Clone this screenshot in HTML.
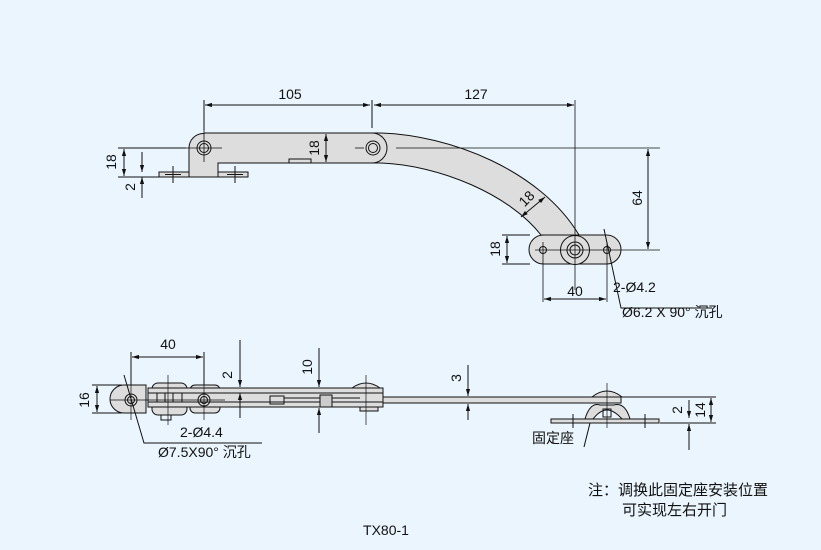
<!DOCTYPE html>
<html><head><meta charset="utf-8"><style>
html,body{margin:0;padding:0;background:#eaf5fd;}
svg{display:block}
text{font-family:"Liberation Sans","Noto Sans CJK SC",sans-serif;font-size:14px;fill:#111}
.n{font-size:15px}
</style></head><body>
<svg width="821" height="550" viewBox="0 0 821 550" xmlns="http://www.w3.org/2000/svg">
<defs>
<marker id="a" viewBox="0 0 10 10" refX="10" refY="5" markerWidth="7" markerHeight="7" orient="auto-start-reverse"><path d="M0,2 L10,5 L0,8 z" fill="#111"/></marker>
</defs>
<rect x="0" y="0" width="821" height="550" fill="#eaf5fd"/>
<g stroke="#111" stroke-width="1" fill="none">
<rect x="159" y="172" width="89" height="5" fill="#ddd"/>
<line x1="173" y1="166" x2="173" y2="183"/><line x1="165" y1="174.5" x2="181" y2="174.5"/>
<line x1="235" y1="166" x2="235" y2="183"/><line x1="227" y1="174.5" x2="243" y2="174.5"/>
<path d="M189,177 L189,148 A14.5,14.5 0 0 1 218,148 L218,177 Z" fill="#ddd"/>
<path d="M204,133 L380,133 C450,135 540,170 579,235 L541,235 C510,195 440,165 380,163 L218,163" fill="#ddd"/>
<path d="M372,133 A15,15 0 0 1 372,163" />
<circle cx="204" cy="148" r="7"/><circle cx="204" cy="148" r="4.5"/>
<circle cx="373" cy="148" r="7"/><circle cx="373" cy="148" r="4.5"/>
<rect x="289" y="159" width="22" height="4" fill="#ddd"/>
<rect x="529" y="235" width="92" height="29" rx="14.5" fill="#ddd"/>
<circle cx="575" cy="250" r="14.5" fill="#ddd"/><circle cx="575" cy="250" r="8"/><circle cx="575" cy="250" r="5"/>
<circle cx="543" cy="250" r="3.5"/><circle cx="607" cy="250" r="3.5"/>
<line x1="186" y1="148" x2="222" y2="148" stroke-width="0.8"/>
<line x1="204" y1="130" x2="204" y2="162" stroke-width="0.8"/>
<line x1="355" y1="148" x2="364" y2="148" stroke-width="0.8"/>
<line x1="396" y1="148" x2="660" y2="148" stroke-width="0.8"/>
<line x1="535" y1="250" x2="660" y2="250" stroke-width="0.8"/>
<line x1="575" y1="100" x2="575" y2="290" stroke-width="0.8"/>
<line x1="543" y1="242" x2="543" y2="302" stroke-width="0.8"/>
<line x1="607" y1="242" x2="607" y2="302" stroke-width="0.8"/>
<line x1="204" y1="100" x2="204" y2="130"/>
<line x1="372" y1="100" x2="372" y2="128"/>
<line x1="205" y1="105" x2="370" y2="105" marker-start="url(#a)" marker-end="url(#a)"/>
<line x1="374" y1="105" x2="574" y2="105" marker-start="url(#a)" marker-end="url(#a)"/>
<line x1="326" y1="134" x2="326" y2="162" marker-start="url(#a)" marker-end="url(#a)"/>
<line x1="648" y1="149" x2="648" y2="249" marker-start="url(#a)" marker-end="url(#a)"/>
<line x1="502" y1="235" x2="530" y2="235"/><line x1="502" y1="264" x2="530" y2="264"/>
<line x1="507" y1="236" x2="507" y2="263" marker-start="url(#a)" marker-end="url(#a)"/>
<line x1="544" y1="299" x2="606" y2="299" marker-start="url(#a)" marker-end="url(#a)"/>
<line x1="521" y1="217" x2="545" y2="197" marker-start="url(#a)" marker-end="url(#a)"/>
<path d="M604,229 L621,308 L712,308"/>
<line x1="118" y1="148" x2="186" y2="148"/><line x1="118" y1="177" x2="165" y2="177"/>
<line x1="124" y1="149" x2="124" y2="176" marker-start="url(#a)" marker-end="url(#a)"/>
<line x1="142" y1="152" x2="142" y2="172" marker-end="url(#a)"/>
<line x1="142" y1="198" x2="142" y2="177" marker-end="url(#a)"/>
<line x1="131" y1="352" x2="131" y2="395"/><line x1="204" y1="352" x2="204" y2="395"/>
<line x1="132" y1="357" x2="203" y2="357" marker-start="url(#a)" marker-end="url(#a)"/>
<line x1="92" y1="385" x2="122" y2="385"/><line x1="92" y1="413" x2="122" y2="413"/>
<line x1="97" y1="386" x2="97" y2="412" marker-start="url(#a)" marker-end="url(#a)"/>
<path d="M124,385 L146,385 L146,413 L124,413 A14,14 0 0 1 124,385 Z" fill="#ddd"/>
<rect x="152" y="383" width="35" height="32" rx="6" fill="#ddd"/>
<rect x="190" y="385" width="30" height="28" rx="5" fill="#ddd"/>
<rect x="148" y="388" width="235" height="19" fill="#ddd"/>
<line x1="148" y1="393" x2="383" y2="393"/><line x1="148" y1="402" x2="383" y2="402"/>
<rect x="157" y="393" width="25" height="9"/>
<line x1="165" y1="393" x2="165" y2="402"/><line x1="173" y1="393" x2="173" y2="402"/>
<rect x="161" y="415" width="10" height="5"/>
<circle cx="131" cy="400" r="6"/><circle cx="131" cy="400" r="3.5"/>
<circle cx="204" cy="400" r="6"/><circle cx="204" cy="400" r="3.5"/>
<line x1="110" y1="400" x2="225" y2="400" stroke-width="0.7"/>
<line x1="131" y1="380" x2="131" y2="420" stroke-width="0.7"/>
<line x1="204" y1="380" x2="204" y2="420" stroke-width="0.7"/>
<line x1="168" y1="375" x2="168" y2="425" stroke-width="0.7"/>
<rect x="270" y="396" width="14" height="8"/>
<line x1="284" y1="398" x2="360" y2="398"/><line x1="284" y1="402" x2="360" y2="402"/>
<rect x="320" y="395" width="12" height="12" fill="#ccc"/>
<path d="M352,388 Q366,378 380,388 Z" fill="#ddd"/>
<rect x="360" y="407" width="18" height="4" fill="#ddd"/>
<line x1="366" y1="375" x2="366" y2="425" stroke-width="0.7"/>
<rect x="383" y="397" width="238" height="6" fill="#ddd"/>
<rect x="551" y="419" width="108" height="4" fill="#ddd"/>
<path d="M585,419 Q590,402 600,405 L614,405 Q625,402 630,419 L622,419 Q614,410 607,410 Q600,410 593,419 Z" fill="#ddd"/>
<path d="M592,397 Q607,385 622,397 Z" fill="#ddd"/>
<rect x="603" y="409" width="8" height="8"/>
<line x1="607" y1="383" x2="607" y2="428" stroke-width="0.7"/>
<line x1="573" y1="414" x2="573" y2="428"/><line x1="645" y1="414" x2="645" y2="428"/>
<line x1="240" y1="340" x2="240" y2="387" marker-end="url(#a)"/>
<line x1="240" y1="418" x2="240" y2="393" marker-end="url(#a)"/>
<line x1="319" y1="348" x2="319" y2="387" marker-end="url(#a)"/>
<line x1="319" y1="433" x2="319" y2="408" marker-end="url(#a)"/>
<line x1="468" y1="365" x2="468" y2="396" marker-end="url(#a)"/>
<line x1="468" y1="420" x2="468" y2="404" marker-end="url(#a)"/>
<line x1="622" y1="397" x2="716" y2="397"/><line x1="660" y1="423" x2="716" y2="423"/>
<line x1="711" y1="398" x2="711" y2="422" marker-start="url(#a)" marker-end="url(#a)"/>
<line x1="689" y1="400" x2="689" y2="418" marker-end="url(#a)"/>
<line x1="689" y1="450" x2="689" y2="424" marker-end="url(#a)"/>
<path d="M124,375 L144,443 L262,443"/>
<path d="M584,447 L590,423"/>
</g>
<text x="290" y="99" text-anchor="middle">105</text>
<text x="476" y="99" text-anchor="middle">127</text>
<text transform="translate(319,148) rotate(-90)" text-anchor="middle">18</text>
<text transform="translate(642,198) rotate(-90)" text-anchor="middle">64</text>
<text transform="translate(500,249) rotate(-90)" text-anchor="middle">18</text>
<text transform="translate(116,162) rotate(-90)" text-anchor="middle">18</text>
<text transform="translate(135,187) rotate(-90)" text-anchor="middle">2</text>
<text transform="translate(530,202) rotate(-45)" text-anchor="middle">18</text>
<text x="575" y="296" text-anchor="middle">40</text>
<text x="613" y="292">2-Ø4.2</text>
<text x="622" y="317">Ø6.2 X 90° 沉孔</text>
<text x="168" y="349" text-anchor="middle">40</text>
<text transform="translate(89,400) rotate(-90)" text-anchor="middle">16</text>
<text transform="translate(232,375) rotate(-90)" text-anchor="middle">2</text>
<text transform="translate(312,367) rotate(-90)" text-anchor="middle">10</text>
<text transform="translate(461,378) rotate(-90)" text-anchor="middle">3</text>
<text transform="translate(682,410) rotate(-90)" text-anchor="middle">2</text>
<text transform="translate(705,410) rotate(-90)" text-anchor="middle">14</text>
<text x="180" y="437">2-Ø4.4</text>
<text x="158" y="457">Ø7.5X90° 沉孔</text>
<text x="532" y="443">固定座</text>
<text class="n" x="588" y="495">注：调换此固定座安装位置</text>
<text class="n" x="622" y="515">可实现左右开门</text>
<text x="386" y="535" text-anchor="middle">TX80-1</text>
</svg>
</body></html>
